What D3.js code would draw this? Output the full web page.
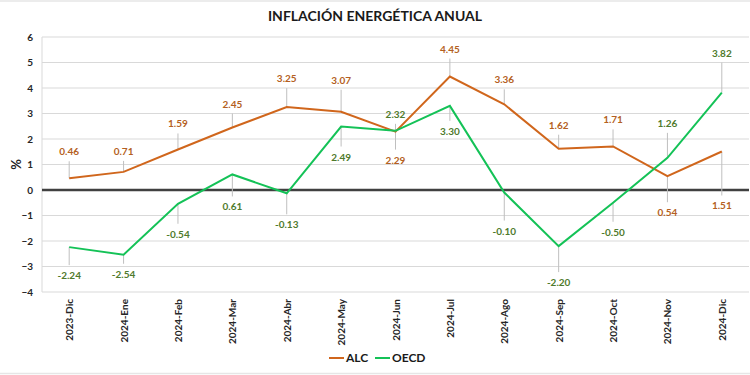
<!DOCTYPE html>
<html>
<head>
<meta charset="utf-8">
<script src="https://cdn.jsdelivr.net/npm/d3@7"></script>
<style>
  body { margin: 0; background: #fff; }
  svg { display: block; font-family: Lato, "Open Sans", sans-serif; font-weight: bold; }
</style>
</head>
<body>
<svg id="canvas"></svg>
<script>
const months = ["2023-Dic", "2024-Ene", "2024-Feb", "2024-Mar", "2024-Abr", "2024-May", "2024-Jun",
                "2024-Jul", "2024-Ago", "2024-Sep", "2024-Oct", "2024-Nov", "2024-Dic"];
const alc = [0.46, 0.71, 1.59, 2.45, 3.25, 3.07, 2.29, 4.45, 3.36, 1.62, 1.71, 0.54, 1.51];
const oecd = [-2.24, -2.54, -0.54, 0.61, -0.13, 2.49, 2.32, 3.30, -0.10, -2.20, -0.50, 1.26, 3.82];
const yTicks = [-4, -3, -2, -1, 0, 1, 2, 3, 4, 5, 6];

// label offsets (px, baseline relative to point) as placed in the original
const alcLabelDy = [-23, -17, -22, -20, -25, -28, 32, -24, -21, -20, -23, 40, 58];
const oecdLabelDy = [32, 23, 34, 36, 35, 34, -13, 29, 42, 40, 33, -31, -36];

const width = 750;
const height = 375;
const plotLeft = 42, plotRight = 749, plotTop = 37, plotBottom = 292;

const svg = d3.select("#canvas")
    .attr("width", width)
    .attr("height", height);

// outer frame lines
svg.append("line").attr("x1", 0).attr("x2", width).attr("y1", 1).attr("y2", 1)
    .attr("stroke", "#e6e6e6").attr("stroke-width", 1.5);
svg.append("line").attr("x1", 0).attr("x2", width).attr("y1", 373.5).attr("y2", 373.5)
    .attr("stroke", "#e6e6e6").attr("stroke-width", 1.5);

const xScale = d3.scalePoint()
    .domain(months)
    .range([plotLeft, plotRight])
    .padding(0.5);
const yScale = d3.scaleLinear()
    .domain([-4, 6])
    .range([plotBottom, plotTop]);

// grid
svg.append("g")
    .selectAll("line")
    .data(yTicks.filter(d => d !== 0))
    .enter()
    .append("line")
    .attr("x1", plotLeft)
    .attr("x2", plotRight)
    .attr("y1", d => yScale(d))
    .attr("y2", d => yScale(d))
    .attr("stroke", "#d9d9d9")
    .attr("stroke-width", 1);

svg.append("line")
    .attr("x1", plotLeft).attr("x2", plotLeft)
    .attr("y1", plotTop).attr("y2", plotBottom)
    .attr("stroke", "#d9d9d9");

const yAxis = d3.axisLeft(yScale)
    .tickValues(yTicks)
    .tickSize(0)
    .tickPadding(9)
    .tickFormat(d3.format("d"));
const yg = svg.append("g")
    .attr("transform", `translate(${plotLeft}, 0)`)
    .call(yAxis);
yg.select(".domain").remove();
yg.selectAll("text").attr("font-size", 10).attr("fill", "#262626")
    .attr("font-family", "Lato, sans-serif").attr("font-weight", "bold");

const xAxis = d3.axisBottom(xScale).tickSize(0);
const xg = svg.append("g")
    .attr("transform", `translate(0, ${plotBottom})`)
    .call(xAxis);
xg.select(".domain").remove();
xg.selectAll("text")
    .attr("font-size", 10)
    .attr("fill", "#262626")
    .attr("font-family", "Lato, sans-serif")
    .attr("font-weight", "bold")
    .attr("text-anchor", "end")
    .attr("transform", "rotate(-90)")
    .attr("x", -7)
    .attr("y", 0)
    .attr("dy", "0.35em");

// zero line
svg.append("line")
    .attr("x1", plotLeft).attr("x2", plotRight)
    .attr("y1", yScale(0)).attr("y2", yScale(0))
    .attr("stroke", "#404040")
    .attr("stroke-width", 2.5);

svg.append("text")
    .attr("transform", `translate(16, ${yScale(1)}) rotate(-90)`)
    .attr("text-anchor", "middle")
    .attr("dy", "0.35em")
    .attr("font-size", 13)
    .attr("fill", "#262626")
    .text("%");

svg.append("text")
    .attr("x", width / 2)
    .attr("y", 21)
    .attr("text-anchor", "middle")
    .attr("font-size", 14)
    .attr("fill", "#1a1a1a")
    .text("INFLACIÓN ENERGÉTICA ANUAL");

const series = [
    { name: "ALC", values: alc, dy: alcLabelDy, color: "#d0661c", labelColor: "#b45f22" },
    { name: "OECD", values: oecd, dy: oecdLabelDy, color: "#14c257", labelColor: "#4f7a2c" }
];

const line = d3.line()
    .x((d, i) => xScale(months[i]))
    .y(d => yScale(d));

series.forEach(s => {
    const g = svg.append("g");
    // leader lines
    g.selectAll("line")
        .data(s.values)
        .enter()
        .append("line")
        .attr("x1", (d, i) => xScale(months[i]))
        .attr("x2", (d, i) => xScale(months[i]))
        .attr("y1", d => yScale(d))
        .attr("y2", (d, i) => yScale(d) + (s.dy[i] < 0 ? s.dy[i] + 6 : s.dy[i] - 14))
        .attr("stroke", "#bfbfbf")
        .attr("stroke-width", 1);
});

series.forEach(s => {
    svg.append("path")
        .datum(s.values)
        .attr("d", line)
        .attr("fill", "none")
        .attr("stroke", s.color)
        .attr("stroke-width", 2);
});

series.forEach(s => {
    svg.append("g")
        .selectAll("text")
        .data(s.values)
        .enter()
        .append("text")
        .attr("x", (d, i) => xScale(months[i]))
        .attr("y", (d, i) => yScale(d) + s.dy[i])
        .attr("text-anchor", "middle")
        .attr("font-size", 10)
        .attr("fill", s.labelColor)
        .text(d => d.toFixed(2));
});

// legend
const legend = svg.append("g").attr("transform", "translate(329, 358)");
series.forEach((s, i) => {
    const lg = legend.append("g").attr("transform", `translate(${i * 46}, 0)`);
    lg.append("line")
        .attr("x1", 0).attr("x2", 15)
        .attr("y1", 0).attr("y2", 0)
        .attr("stroke", s.color)
        .attr("stroke-width", 2);
    lg.append("text")
        .attr("x", 17)
        .attr("dy", "0.35em")
        .attr("font-size", 12)
        .attr("fill", "#1a1a1a")
        .text(s.name);
});
</script>
</body>
</html>
